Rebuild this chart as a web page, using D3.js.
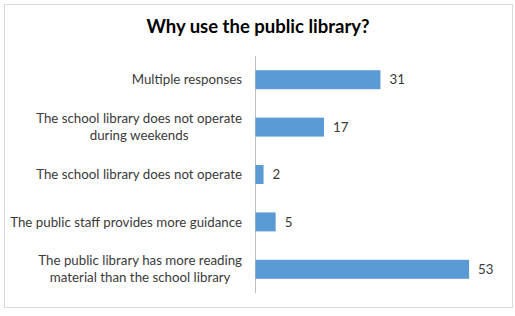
<!DOCTYPE html>
<html><head><meta charset="utf-8">
<script src="https://cdn.jsdelivr.net/npm/d3@7"></script>
<style>body{margin:0;background:#fff;} text{font-family:Lato, "Open Sans", sans-serif;}</style>
</head><body>
<svg id="chart" width="515" height="316"></svg>
<script>
const categories = [
  ["Multiple responses"],
  ["The school library does not operate", "during weekends"],
  ["The school library does not operate"],
  ["The public staff provides more guidance"],
  ["The public library has more reading", "material than the school library"]
];
const values = [31, 17, 2, 5, 53];
const title = "Why use the public library?";

const svg = d3.select("#chart");
svg.append("rect").attr("x", 4.5).attr("y", 4.5).attr("width", 508).attr("height", 303)
  .attr("fill", "#fff").attr("stroke", "#d9d9d9");

svg.append("text").attr("x", 258).attr("y", 33).attr("text-anchor", "middle")
  .attr("font-size", 18.5).attr("font-weight", "bold").attr("fill", "#000").text(title);

const x = d3.scaleLinear().domain([0, 60]).range([255.5, 497.3]);
const y = d3.scaleBand().domain(d3.range(categories.length)).range([56, 293]).paddingInner(0.6).paddingOuter(0.3);

svg.append("line").attr("x1", x(0)).attr("x2", x(0)).attr("y1", 56).attr("y2", 293)
  .attr("stroke", "#bfbfbf").attr("stroke-width", 1);

svg.selectAll("rect.bar").data(values).join("rect").attr("class", "bar")
  .attr("x", x(0)).attr("y", (d, i) => y(i)).attr("width", d => x(d) - x(0)).attr("height", y.bandwidth())
  .attr("fill", "#5b9bd5");

svg.selectAll("text.val").data(values).join("text").attr("class", "val")
  .attr("x", d => x(d) + 9).attr("y", (d, i) => y(i) + y.bandwidth() / 2).attr("dy", "0.35em")
  .attr("font-size", 13.3).attr("fill", "#3a3a3a").text(d => d);

const lab = svg.selectAll("text.cat").data(categories).join("text").attr("class", "cat")
  .attr("font-size", 13.3).attr("fill", "#3a3a3a").attr("text-anchor", "middle");
lab.each(function(lines, i) {
  const t = d3.select(this);
  const cy = y(i) + y.bandwidth() / 2;
  const lh = 17;
  lines.forEach((s, j) => {
    t.append("tspan").attr("y", cy + (j - (lines.length - 1) / 2) * lh).attr("dy", "0.35em").text(s);
  });
});
lab.each(function() {
  const t = d3.select(this);
  const tsp = t.selectAll("tspan");
  let maxW = 0;
  tsp.each(function() { maxW = Math.max(maxW, this.getComputedTextLength()); });
  tsp.attr("x", 242 - maxW / 2);
});
</script>
</body></html>
